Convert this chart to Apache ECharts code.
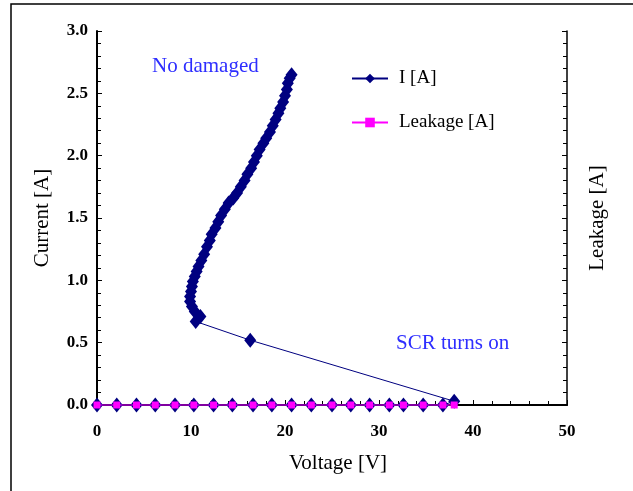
<!DOCTYPE html>
<html>
<head>
<meta charset="utf-8">
<script src="https://cdn.jsdelivr.net/npm/echarts@6/dist/echarts.min.js"></script>
<style>
  html, body { margin: 0; padding: 0; background: #fff; }
  #main { width: 633px; height: 491px; }
</style>
</head>
<body>
<div id="main"></div>
<script>
// I [A] : voltage / current, in measurement order
var iVoltage = [0, 2.1, 4.2, 6.2, 8.3, 10.3, 12.4, 14.4, 16.6, 18.6, 20.7, 22.8, 25.0, 27.0, 29.0, 31.1, 32.6, 34.7, 36.8, 38.0,
  16.3, 10.5, 11.0, 10.4, 10.1, 9.9, 9.9, 10.0, 10.1, 10.2, 10.4, 10.6, 10.8, 11.1, 11.4, 11.7, 12.0, 12.2, 12.6, 12.9,
  13.2, 13.6, 14.0, 14.5, 14.9, 15.3, 15.7, 16.0, 16.4, 16.7, 17.0, 17.3, 17.7, 18.0, 18.4, 18.7, 19.0, 19.3, 19.5, 19.8,
  20.0, 20.2, 20.3, 20.5, 20.7];
var iCurrent = [0, 0, 0, 0, 0, 0, 0, 0, 0, 0, 0, 0, 0, 0, 0, 0, 0, 0, 0, 0.03,
  0.52, 0.67, 0.71, 0.75, 0.79, 0.83, 0.87, 0.91, 0.95, 0.99, 1.03, 1.07, 1.11, 1.16, 1.21, 1.27, 1.32, 1.37, 1.42, 1.47,
  1.52, 1.57, 1.62, 1.66, 1.70, 1.75, 1.80, 1.85, 1.90, 1.95, 2.00, 2.05, 2.10, 2.14, 2.19, 2.24, 2.29, 2.34, 2.38, 2.43,
  2.48, 2.53, 2.58, 2.62, 2.65];

// Leakage [A]
var leakVoltage = [0, 2.1, 4.2, 6.2, 8.3, 10.3, 12.4, 14.4, 16.6, 18.6, 20.7, 22.8, 25.0, 27.0, 29.0, 31.1, 32.6, 34.7, 36.8, 38.0];
var leakCurrent = [0, 0, 0, 0, 0, 0, 0, 0, 0, 0, 0, 0, 0, 0, 0, 0, 0, 0, 0, 0];

var xTicks = [0, 10, 20, 30, 40, 50];
var yTicks = [0, 0.5, 1.0, 1.5, 2.0, 2.5, 3.0];

function zip(a, b) {
  var out = [];
  for (var i = 0; i < a.length; i++) out.push([a[i], b[i]]);
  return out;
}

var serif = '"Liberation Serif", "DejaVu Serif", serif';

var myChart = echarts.init(document.getElementById('main'));

var option = {
  backgroundColor: '#fff',
  animation: false,
  grid: { left: 97, top: 31, right: 66, bottom: 86 },
  legend: {
    orient: 'vertical',
    left: 346,
    top: 64,
    itemGap: 25,
    itemWidth: 36,
    itemHeight: 12,
    textStyle: { fontFamily: serif, fontSize: 19, color: '#000', padding: [0, 0, 0, 6] },
    data: ['I [A]', 'Leakage [A]']
  },
  graphic: [
    { type: 'rect', silent: true, shape: { x: 11, y: 4, width: 700, height: 600 },
      style: { fill: 'none', stroke: '#000', lineWidth: 1.5 } },
    { type: 'text', left: 152, top: 56,
      style: { text: 'No damaged', fill: '#2e2eff', font: '21px ' + serif } },
    { type: 'text', left: 396, top: 333,
      style: { text: 'SCR turns on', fill: '#2e2eff', font: '21px ' + serif } }
  ],
  xAxis: [{
    type: 'value',
    min: 0, max: 50, interval: 10,
    name: 'Voltage [V]',
    nameLocation: 'middle',
    nameGap: 48,
    nameTextStyle: { fontFamily: serif, fontSize: 21, color: '#000', padding: [0, 0, 0, 12] },
    axisLine: { show: true, onZero: false, lineStyle: { color: '#000', width: 2 } },
    axisTick: { show: true, inside: true, length: 5, lineStyle: { color: '#000' } },
    minorTick: { show: true, splitNumber: 5, length: 4, lineStyle: { color: '#000' } },
    splitLine: { show: false },
    axisLabel: {
      margin: 18, fontFamily: serif, fontSize: 17, fontWeight: 'bold', color: '#000',
      formatter: function (v) { return xTicks.indexOf(v) >= 0 ? String(v) : ''; }
    }
  }, {
    type: 'value', position: 'top',
    min: 0, max: 50,
    axisLine: { show: true, lineStyle: { color: '#000', width: 1.5 } },
    axisTick: { show: false },
    axisLabel: { show: false },
    splitLine: { show: false }
  }],
  yAxis: [{
    type: 'value',
    min: 0, max: 3, interval: 0.5,
    name: 'Current [A]',
    nameLocation: 'middle',
    nameRotate: 90,
    nameGap: 44,
    nameTextStyle: { fontFamily: serif, fontSize: 21, color: '#000' },
    axisLine: { show: true, onZero: false, lineStyle: { color: '#000', width: 2 } },
    axisTick: { show: true, inside: true, length: 5, lineStyle: { color: '#000' } },
    minorTick: { show: true, splitNumber: 5, length: 4, lineStyle: { color: '#000' } },
    splitLine: { show: false },
    axisLabel: {
      margin: 9, fontFamily: serif, fontSize: 17, fontWeight: 'bold', color: '#000',
      formatter: function (v) { return v.toFixed(1); }
    }
  }, {
    type: 'value', position: 'right',
    min: 0, max: 3, interval: 0.5,
    name: 'Leakage [A]',
    nameLocation: 'middle',
    nameRotate: 90,
    nameGap: 20,
    nameTextStyle: { fontFamily: serif, fontSize: 21, color: '#000' },
    axisLine: { show: true, onZero: false, lineStyle: { color: '#000', width: 1.5 } },
    axisTick: { show: true, inside: true, length: 5, lineStyle: { color: '#000' } },
    minorTick: { show: true, splitNumber: 5, length: 4, lineStyle: { color: '#000' } },
    splitLine: { show: false },
    axisLabel: { show: false }
  }],
  series: [{
    name: 'I [A]',
    type: 'line',
    xAxisIndex: 0, yAxisIndex: 0,
    data: zip(iVoltage, iCurrent),
    clip: false,
    symbol: 'diamond',
    symbolSize: [12, 15],
    showAllSymbol: true,
    itemStyle: { color: '#000080' },
    lineStyle: { color: '#000080', width: 1 },
    z: 3
  }, {
    name: 'Leakage [A]',
    type: 'line',
    xAxisIndex: 0, yAxisIndex: 1,
    data: zip(leakVoltage, leakCurrent),
    clip: false,
    symbol: 'rect',
    symbolSize: 7,
    showAllSymbol: true,
    itemStyle: { color: '#ff00ff' },
    lineStyle: { color: '#ff00ff', width: 1 },
    z: 4
  }]
};

myChart.setOption(option);
</script>
</body>
</html>
